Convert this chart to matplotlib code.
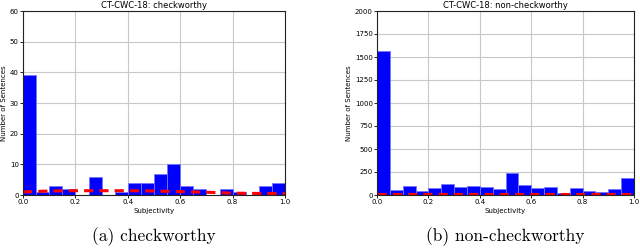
import numpy as np
import matplotlib.pyplot as plt

bin_edges = np.linspace(0, 1, 21)

# counts per subjectivity bin (width 0.05)
cw_counts = [39, 1, 3, 2, 0, 6, 0, 1, 4, 4, 7, 10, 3, 2, 0, 2, 1, 0, 3, 4]
ncw_counts = [1570, 50, 100, 40, 75, 120, 90, 95, 90, 60,
              240, 110, 80, 90, 20, 75, 40, 30, 70, 180]

# red dashed reference curves
curve_x = [0.0, 0.1, 0.2, 0.3, 0.4, 0.5, 0.6, 0.7, 0.8, 0.9, 1.0]
cw_curve = [1.0, 1.3, 1.4, 1.4, 1.4, 1.3, 1.1, 0.9, 0.6, 0.5, 0.5]
ncw_curve = [10, 10, 10, 10, 10, 10, 10, 10, 10, 10, 10]

titles = ['CT-CWC-18: checkworthy', 'CT-CWC-18: non-checkworthy']
captions = ['(a) checkworthy', '(b) non-checkworthy']
ymax = [60, 2000]
ystep = [10, 250]

fig = plt.figure(figsize=(6.4, 2.5), dpi=100)
ax1 = fig.add_axes([23/640, 1-195/250, 262/640, 184/250])
ax2 = fig.add_axes([377/640, 1-195/250, 257/640, 184/250])

for ax, counts, curve, title, cap, ym, st in zip(
        [ax1, ax2], [cw_counts, ncw_counts], [cw_curve, ncw_curve],
        titles, captions, ymax, ystep):
    ax.set_axisbelow(True)
    ax.grid(True, color='#c8c8c8', linewidth=0.8)
    ax.bar(bin_edges[:-1], counts, width=0.05, align='edge',
           color='blue', edgecolor='#7777ff', linewidth=0.6)
    ax.plot(curve_x, curve, color='red', linestyle='--', linewidth=2.2,
            dashes=(3, 2))
    ax.set_xlim(0, 1)
    ax.set_ylim(0, ym)
    ax.set_xticks(np.arange(0, 1.01, 0.2))
    ax.set_yticks(np.arange(0, ym + 1, st))
    ax.tick_params(labelsize=5, length=2, width=0.6, pad=1)
    ax.set_title(title, fontsize=6, pad=2)
    ax.set_xlabel('Subjectivity', fontsize=5, labelpad=2)
    ax.set_ylabel('Number of Sentences', fontsize=5, labelpad=2)
    for s in ax.spines.values():
        s.set_linewidth(0.8)
        s.set_color('#222222')
    pos = ax.get_position()
    fig.text((pos.x0 + pos.x1) / 2, 1 - 237/250, cap, fontsize=12.5,
             family='cmr10', ha='center', va='center')

fig.savefig('out.png', dpi=100)
